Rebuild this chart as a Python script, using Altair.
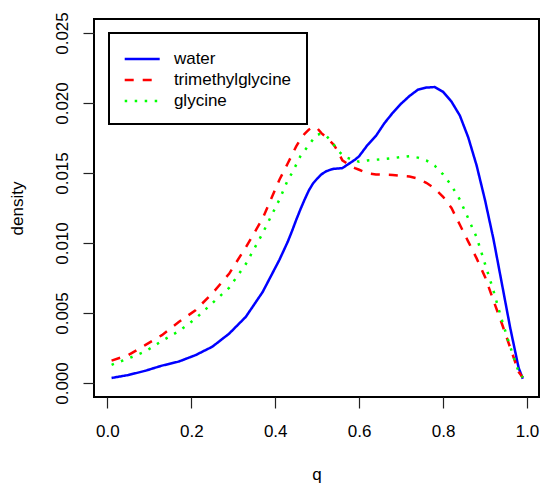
import altair as alt
import pandas as pd

# ---- data ----
q = [0.01, 0.05, 0.09, 0.13, 0.17, 0.21, 0.25, 0.29, 0.33, 0.37,
     0.41, 0.42, 0.43, 0.44, 0.45, 0.46, 0.47, 0.48, 0.49, 0.50,
     0.51, 0.52, 0.53, 0.54, 0.55, 0.56, 0.57, 0.58, 0.59, 0.60,
     0.62, 0.64, 0.66, 0.68, 0.70, 0.72, 0.74, 0.76, 0.78, 0.80,
     0.82, 0.84, 0.86, 0.88, 0.90, 0.92, 0.94, 0.96, 0.98, 0.99]

water = [0.00036, 0.00057, 0.00087, 0.00124, 0.00153, 0.00199, 0.00259, 0.00352, 0.00473, 0.00650,
         0.00880, 0.00945, 0.01010, 0.01085, 0.01165, 0.01240, 0.01310, 0.01375, 0.01425, 0.01460,
         0.01490, 0.01510, 0.01522, 0.01530, 0.01532, 0.01535, 0.01555, 0.01575, 0.01595, 0.01620,
         0.01700, 0.01765, 0.01855, 0.01930, 0.01995, 0.02050, 0.02095, 0.02110, 0.02114, 0.02080,
         0.02010, 0.01910, 0.01754, 0.01553, 0.01306, 0.01029, 0.00712, 0.00394, 0.00109, 0.00030]

trimethylglycine = [0.00160, 0.00200, 0.00270, 0.00342, 0.00435, 0.00520, 0.00640, 0.00780, 0.00970, 0.01175,
                    0.01452, 0.01510, 0.01570, 0.01630, 0.01690, 0.01740, 0.01780, 0.01810, 0.01830, 0.01820,
                    0.01785, 0.01760, 0.01730, 0.01700, 0.01650, 0.01590, 0.01570, 0.01550, 0.01535, 0.01523,
                    0.01498, 0.01490, 0.01488, 0.01486, 0.01480, 0.01475, 0.01460, 0.01430, 0.01390, 0.01330,
                    0.01250, 0.01130, 0.01010, 0.00890, 0.00758, 0.00590, 0.00425, 0.00253, 0.00080, 0.00040]

glycine = [0.00130, 0.00175, 0.00225, 0.00300, 0.00370, 0.00460, 0.00570, 0.00680, 0.00850, 0.01070,
           0.01310, 0.01380, 0.01450, 0.01500, 0.01560, 0.01620, 0.01660, 0.01700, 0.01740, 0.01775,
           0.01780, 0.01770, 0.01738, 0.01700, 0.01660, 0.01630, 0.01610, 0.01600, 0.01590, 0.01580,
           0.01590, 0.01595, 0.01600, 0.01606, 0.01614, 0.01620, 0.01610, 0.01590, 0.01552, 0.01490,
           0.01410, 0.01310, 0.01175, 0.01040, 0.00850, 0.00660, 0.00450, 0.00260, 0.00080, 0.00040]

series_names = ["water", "trimethylglycine", "glycine"]
series_colors = ["#0000ff", "#ff0000", "#00ff00"]
series_dashes = [[1, 0], [9, 9], [2.5, 7.5]]

x_ticks = [0.0, 0.2, 0.4, 0.6, 0.8, 1.0]
y_ticks = [0.0, 0.005, 0.010, 0.015, 0.020, 0.025]

rows = []
for name, vals in zip(series_names, [water, trimethylglycine, glycine]):
    for i, (qq, v) in enumerate(zip(q, vals)):
        rows.append({"q": qq, "density": v, "series": name, "idx": i})
df = pd.DataFrame(rows)

FONT = "Liberation Sans"
FS = 17

legend = alt.Legend(title=None)

chart = alt.Chart(df).mark_line(strokeWidth=2.5, strokeCap="butt").encode(
    x=alt.X("q:Q",
            scale=alt.Scale(domain=[-0.0319, 1.0286], nice=False, zero=False),
            axis=alt.Axis(values=x_ticks, format=".1f", title="q",
                          labelBaseline="alphabetic", labelPadding=28,
                          titleX=222.5, titleY=82, titleAlign="center",
                          titleBaseline="alphabetic")),
    y=alt.Y("density:Q",
            scale=alt.Scale(domain=[-0.001, 0.026], nice=False, zero=False),
            axis=alt.Axis(values=y_ticks, format=".3f", title="density",
                          labelAngle=270, labelAlign="center",
                          labelBaseline="alphabetic", labelPadding=15.5,
                          titleAngle=270, titleX=-71.8, titleY=189,
                          titleAlign="center", titleBaseline="alphabetic")),
    color=alt.Color("series:N",
                    scale=alt.Scale(domain=series_names, range=series_colors),
                    legend=legend),
    strokeDash=alt.StrokeDash("series:N",
                              scale=alt.Scale(domain=series_names, range=series_dashes),
                              legend=legend),
    order="idx:Q",
).properties(
    width=445,
    height=378,
    padding={"left": 94, "top": 19, "right": 1, "bottom": 90},
    autosize="none",
    background="white",
).configure_view(
    stroke="black", strokeWidth=2,
).configure_axis(
    domain=False, grid=False,
    tickSize=11, tickWidth=1.2, tickColor="#222222",
    labelFont=FONT, labelFontSize=FS, labelColor="black",
    titleFont=FONT, titleFontSize=FS, titleColor="black", titleFontWeight="normal",
).configure_legend(
    orient="none", legendX=15, legendY=14,
    padding=15, strokeColor="black", strokeWidth=2, fillColor="white",
    cornerRadius=0, rowPadding=2,
    symbolType="M-1.795,0H1.795", symbolSize=380, symbolStrokeWidth=2.5,
    symbolOffset=7.2, labelOffset=20.7,
    labelFont=FONT, labelFontSize=FS, labelColor="black",
)

chart.save("out.html", embed_options={"renderer": "svg", "actions": False})
